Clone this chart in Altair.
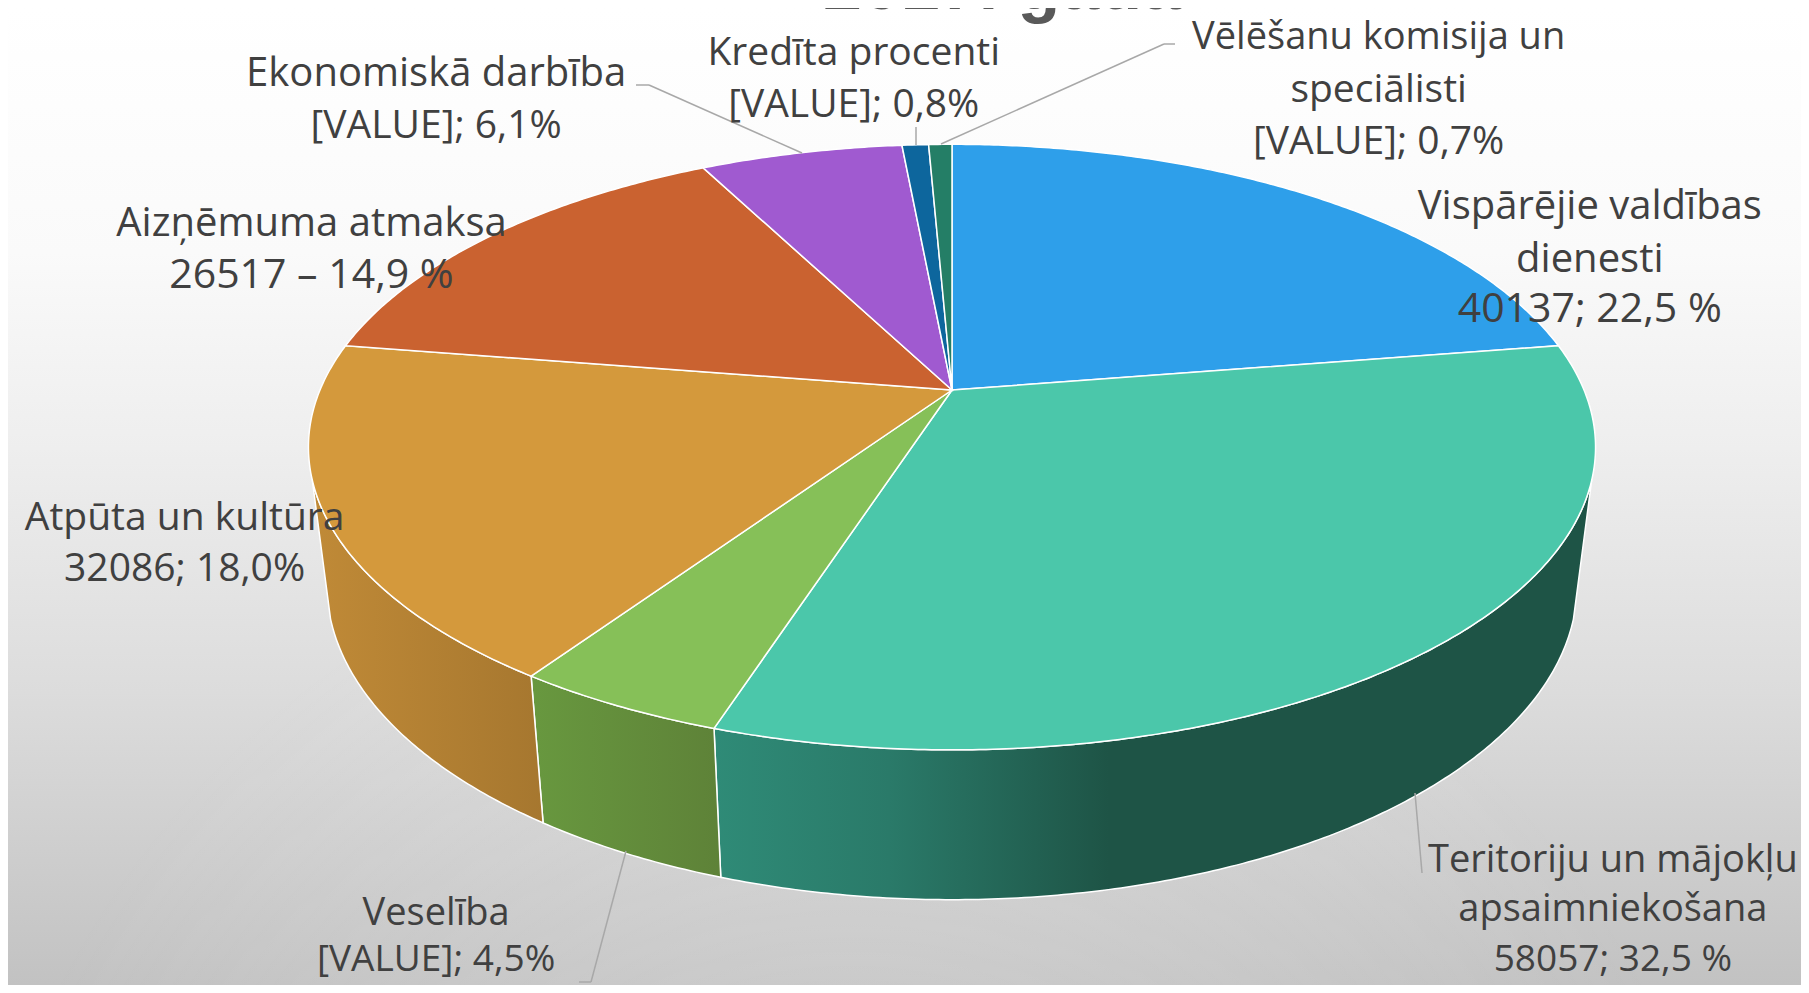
import math
import altair as alt

W, H = 1793, 977

names = ["Vispārējie valdības dienesti", "Teritoriju un mājokļu apsaimniekošana", "Veselība",
         "Atpūta un kultūra", "Aizņēmuma atmaksa", "Ekonomiskā darbība", "Kredīta procenti",
         "Vēlēšanu komisija un speciālisti"]
shares = [22.5, 32.5, 4.5, 18.0, 14.9, 6.1, 0.8, 0.7]
top_colors = ["#2e9fea", "#4bc7aa", "#86c058", "#d4993c", "#ca6230", "#a05ad0", "#0d669d", "#247e66"]

label_lines = [
    ["Ekonomiskā darbība", "[VALUE]; 6,1%"],
    ["Kredīta procenti", "[VALUE]; 0,8%"],
    ["Vēlēšanu komisija un", "speciālisti", "[VALUE]; 0,7%"],
    ["Vispārējie valdības", "dienesti", "40137; 22,5 %"],
    ["Aizņēmuma atmaksa", "26517 – 14,9 %"],
    ["Atpūta un kultūra", "32086; 18,0%"],
    ["Veselība", "[VALUE]; 4,5%"],
    ["Teritoriju un mājokļu", "apsaimniekošana", "58057; 32,5 %"],
]
label_cx = [378, 740, 1195, 1378, 270, 160, 378, 1398]
label_cy = [[64, 109], [46, 91], [33, 78, 123], [179, 225, 269], [194, 239], [449, 493], [792, 832], [746, 789, 832]]
label_fs = [[40, 39], [39, 39], [38, 39, 39], [40, 40, 41], [40, 41], [39, 39], [38, 37], [38, 38, 37]]

leaders = [
    [(636, 85), (649, 85), (802, 153)],
    [(916, 127), (916, 145)],
    [(1175, 44), (1164, 44), (941, 144)],
    [(579, 982), (591, 982), (626, 851)],
    [(1415, 793), (1422, 873)],
]

K = -0.1886
CX = 952.0
TOP = (632.0, 390.0, 292.0)
BOT = (614.0, 525.0, 304.0)
APEX_Y = 390.0


def ring(theta_deg, spec):
    t = math.radians(theta_deg)
    u, v = math.sin(t), -math.cos(t)
    d = 1 + K * v
    return [CX + spec[0] * u / d - 8, spec[1] + spec[2] * v / d - 8]


def arc(a, b, spec):
    n = max(3, int(abs(b - a) * 2))
    return [ring(a + (b - a) * i / n, spec) for i in range(n + 1)]


def feature(name, pts):
    pts = pts + [pts[0]]
    return {"type": "Feature", "properties": {"name": name},
            "geometry": {"type": "Polygon", "coordinates": [pts]}}


bounds = [0.0]
for s in shares:
    bounds.append(bounds[-1] + s * 3.6)

apex = [CX - 8, APEX_Y - 8]
top_features = [feature(n, [apex] + arc(bounds[i], bounds[i + 1], TOP)) for i, n in enumerate(names)]


def grad(stops):
    return alt.LinearGradient(gradient="linear", x1=0, x2=1, y1=0, y2=0,
                              stops=[alt.GradientStop(color=c, offset=o) for o, c in stops])


WALL_START, WALL_END = 107.0, 253.0
walls = [
    (WALL_START, bounds[2], [(0, "#2f8b77"), (0.2, "#2a7a69"), (0.45, "#1e5446"), (1, "#1e5446")]),
    (bounds[2], bounds[3], [(0, "#68983f"), (1, "#5e8238")]),
    (bounds[3], WALL_END, [(0, "#c08a37"), (1, "#a6772f")]),
]

layers = []
layers.append(
    alt.Chart(alt.Data(values=[{"a": 1}])).mark_rect(
        fill=alt.LinearGradient(gradient="linear", x1=0, x2=0, y1=0, y2=1, stops=[
            alt.GradientStop(color="#ffffff", offset=0),
            alt.GradientStop(color="#fafafa", offset=0.25),
            alt.GradientStop(color="#eeeeee", offset=0.45),
            alt.GradientStop(color="#dcdcdc", offset=0.7),
            alt.GradientStop(color="#c2c2c2", offset=1),
        ])
    ).encode(x=alt.value(0), x2=alt.value(W), y=alt.value(0), y2=alt.value(H))
)
layers.append(
    alt.Chart(alt.Data(values=[{"a": 1}])).mark_rect(
        fill=alt.RadialGradient(gradient="radial", x1=0.47, y1=1.0, r1=0, x2=0.47, y2=1.0, r2=0.5, stops=[
            alt.GradientStop(color="rgba(255,255,255,0.25)", offset=0),
            alt.GradientStop(color="rgba(255,255,255,0)", offset=1),
        ])
    ).encode(x=alt.value(0), x2=alt.value(W), y=alt.value(0), y2=alt.value(H))
)

for a, b, stops in walls:
    pts = arc(a, b, TOP) + arc(b, a, BOT)
    layers.append(
        alt.Chart(alt.Data(values=[feature("wall", pts)])).mark_geoshape(
            fill=grad(stops), stroke="white", strokeWidth=1.5
        ).project(type="identity", scale=1, translate=[0, 0])
    )

layers.append(
    alt.Chart(alt.Data(values=top_features)).mark_geoshape(stroke="white", strokeWidth=1.5).encode(
        color=alt.Color("properties.name:N", scale=alt.Scale(domain=names, range=top_colors), legend=None)
    ).project(type="identity", scale=1, translate=[0, 0])
)

for path in leaders:
    for (x0, y0), (x1, y1) in zip(path[:-1], path[1:]):
        layers.append(
            alt.Chart(alt.Data(values=[{"a": 1}])).mark_rule(color="#a8a8a8", strokeWidth=1.5).encode(
                x=alt.value(x0 - 8), x2=alt.value(x1 - 8), y=alt.value(y0 - 8), y2=alt.value(y1 - 8)
            )
        )

SCALE = 1809 / 1568
for lines, cx, cys, sizes in zip(label_lines, label_cx, label_cy, label_fs):
    for line, cy, fs in zip(lines, cys, sizes):
        layers.append(
            alt.Chart(alt.Data(values=[{"t": line}])).mark_text(
                font="Open Sans", fontSize=fs, color="#404040", align="center", baseline="middle"
            ).encode(text="t:N", x=alt.value(cx * SCALE - 8), y=alt.value(cy * SCALE - 8))
        )

layers.append(
    alt.Chart(alt.Data(values=[{"t": "2017. gada"}])).mark_text(
        font="Liberation Sans", fontSize=70, fontWeight="bold", color="#595959", align="center", baseline="alphabetic"
    ).encode(text="t:N", x=alt.value(994), y=alt.value(1))
)

chart = alt.layer(*layers).properties(
    width=W, height=H, padding=0, autosize=alt.AutoSizeParams(type="none")
).configure_view(stroke=None)

chart.save("out.html", embed_options={"renderer": "svg", "actions": False})
